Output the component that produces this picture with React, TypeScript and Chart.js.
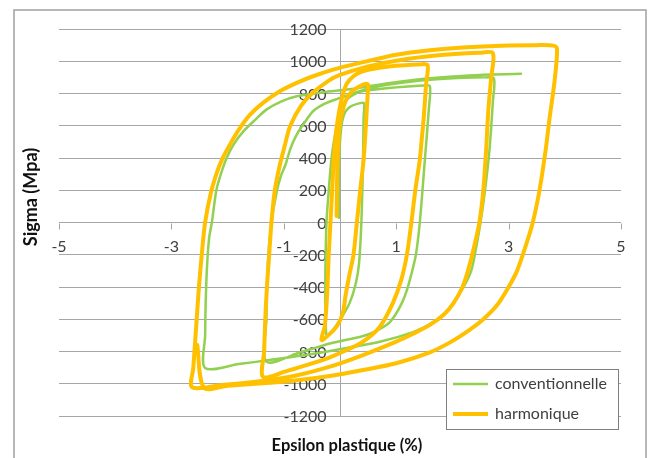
import React, { useEffect, useRef } from 'react';
import { Chart, registerables } from 'chart.js';

Chart.register(...registerables);

// ---- Axis ticks ----
const xTickValues = [-5, -3, -1, 1, 3, 5];
const yTickValues = [-1200, -1000, -800, -600, -400, -200, 0, 200, 400, 600, 800, 1000, 1200];

// ---- Series: conventionnelle (strain %, stress MPa), one line per branch ----
const conventionnelleStrain = [
  -0.02, -0.02, 0.0, 0.04, 0.1, 0.2, 0.38, 0.43,
  0.42, 0.41, 0.38, 0.34, 0.28, 0.17, 0.0, -0.18, -0.24,
  -0.26, -0.26, -0.24, -0.2, -0.15, -0.08, 0.0, 0.12, 0.25, 0.41, 1.0, 1.5, 1.6,
  1.58, 1.51, 1.42, 1.35, 1.27, 1.18, 1.1, 0.98, 0.85, 0.6, 0.4, -0.18, -0.7, -1.31,
  -1.31, -1.29, -1.22, -1.12, -1.05, -0.97, -0.88, -0.77, -0.63, -0.48, -0.28, -0.06, 0.5, 1.0, 1.6, 2.19, 2.6, 2.74,
  2.72, 2.66, 2.58, 2.5, 2.42, 2.34, 2.2, 2.03, 1.87, 1.6, 1.3, 0.71, 0.12, -0.5, -1.2, -1.8, -2.4,
  -2.4, -2.39, -2.37, -2.33, -2.28, -2.2, -2.12, -2.03, -1.9, -1.72, -1.5, -1.31, -1.05, -0.77, -0.3, 0.17, 0.6, 1.0, 1.6, 2.3, 3.22,
];
const conventionnelleStress = [
  30, 300, 500, 630, 690, 722, 742, 740,
  650, 389, 0, -250, -380, -500, -604, -690, -705,
  -500, -294, 0, 200, 400, 560, 660, 760, 795, 815, 838, 850, 845,
  700, 389, 0, -200, -320, -430, -500, -575, -630, -680, -705, -750, -805, -863,
  -600, -294, 0, 200, 290, 358, 460, 545, 620, 690, 735, 765, 830, 862, 885, 897, 900, 893,
  750, 451, 200, 0, -160, -294, -400, -490, -560, -630, -680, -740, -778, -815, -850, -878, -902,
  -700, -500, -300, -100, 0, 200, 300, 389, 480, 565, 640, 700, 750, 783, 808, 826, 850, 870, 895, 912, 922,
];

// ---- Series: harmonique (strain %, stress MPa), one line per branch ----
const harmoniqueStrain = [
  -0.06, -0.05, -0.03, 0.0, 0.05, 0.12, 0.22, 0.35, 0.47, 0.5,
  0.49, 0.46, 0.42, 0.36, 0.3, 0.24, 0.17, 0.1, 0.05, -0.05, -0.18, -0.33,
  -0.27, -0.23, -0.2, -0.17, -0.14, -0.11, -0.07, -0.02, 0.04, 0.12, 0.25, 0.4, 0.7, 1.0, 1.45, 1.56,
  1.53, 1.49, 1.45, 1.42, 1.34, 1.27, 1.19, 1.09, 0.94, 0.71, 0.41, 0.12, -0.18, -0.6, -0.98, -1.37,
  -1.35, -1.33, -1.3, -1.26, -1.22, -1.16, -1.07, -0.98, -0.89, -0.7, -0.5, -0.2, 0.0, 0.5, 1.0, 1.7, 2.48, 2.72,
  2.69, 2.64, 2.6, 2.55, 2.48, 2.4, 2.3, 2.18, 2.02, 1.85, 1.6, 1.3, 1.0, 0.41, -0.18, -0.8, -1.5, -2.1, -2.63,
  -2.61, -2.58, -2.55, -2.51, -2.46, -2.4, -2.3, -2.2, -2.1, -1.96, -1.8, -1.6, -1.37, -1.07, -0.77, -0.48, -0.12, 0.3, 1.0, 1.6, 2.19, 3.0, 3.5, 3.8, 3.86,
  3.84, 3.79, 3.73, 3.66, 3.55, 3.43, 3.3, 3.15, 3.0, 2.8, 2.55, 2.3, 1.95, 1.6, 1.0, 0.41, -0.18, -0.8, -1.5, -2.0, -2.42, -2.54,
];
const harmoniqueStress = [
  40, 300, 500, 620, 700, 770, 815, 845, 860, 855,
  780, 600, 389, 200, 0, -200, -320, -450, -563, -640, -690, -729,
  -640, -450, -200, 0, 200, 400, 560, 680, 780, 860, 910, 938, 960, 972, 982, 975,
  850, 650, 500, 389, 200, 0, -200, -356, -500, -646, -739, -791, -836, -885, -925, -957,
  -800, -600, -400, -200, 0, 200, 358, 480, 596, 720, 800, 880, 915, 968, 1003, 1035, 1052, 1050,
  900, 700, 451, 200, 0, -130, -270, -400, -500, -570, -635, -690, -739, -822, -894, -950, -988, -1008, -1022,
  -900, -750, -600, -400, -200, 0, 180, 300, 390, 482, 576, 669, 742, 814, 866, 907, 948, 985, 1040, 1068, 1085, 1097, 1100, 1097, 1080,
  950, 800, 650, 451, 200, 0, -150, -300, -400, -510, -600, -667, -745, -805, -873, -915, -952, -980, -1000, -1012, -1025, -760,
];

const seriesNames = ['conventionnelle', 'harmonique'];
const seriesColors = ['#92D050', '#FFC000'];
const seriesWidths = [2.5, 4];

const xTitle = 'Epsilon plastique (%)';
const yTitle = 'Sigma (Mpa)';

const toPoints = (xs: number[], ys: number[]) => xs.map((x, i) => ({ x, y: ys[i] }));

const overlayPlugin = {
  id: 'overlay',
  beforeDraw(chart: any) {
    const ctx = chart.ctx;
    ctx.save();
    ctx.fillStyle = '#ffffff';
    ctx.fillRect(0, 0, chart.width, chart.height);
    ctx.restore();
  },
  beforeDatasetsDraw(chart: any) {
    const ctx = chart.ctx;
    const xs = chart.scales.x;
    const ys = chart.scales.y;
    const area = chart.chartArea;
    const x0 = Math.round(xs.getPixelForValue(0)) + 0.5;
    const y0 = Math.round(ys.getPixelForValue(0)) + 0.5;
    ctx.save();
    ctx.strokeStyle = '#a6a6a6';
    ctx.lineWidth = 1;
    // vertical axis at x = 0
    ctx.beginPath();
    ctx.moveTo(x0, area.top);
    ctx.lineTo(x0, area.bottom);
    ctx.stroke();
    // x tick marks
    xTickValues.forEach((v) => {
      const px = Math.round(xs.getPixelForValue(v)) + 0.5;
      ctx.beginPath();
      ctx.moveTo(px, y0);
      ctx.lineTo(px, y0 + 6);
      ctx.stroke();
    });
    // tick labels
    ctx.fillStyle = '#404040';
    ctx.font = '16px Lato';
    ctx.textBaseline = 'middle';
    ctx.textAlign = 'center';
    xTickValues.forEach((v) => {
      ctx.fillText(String(v), xs.getPixelForValue(v), y0 + 23);
    });
    ctx.textAlign = 'right';
    yTickValues.forEach((v) => {
      ctx.fillText(String(v), x0 - 14, ys.getPixelForValue(v) + 1);
    });
    // axis titles
    ctx.fillStyle = '#111111';
    ctx.textAlign = 'center';
    ctx.font = 'bold 16.5px Lato';
    ctx.fillText(xTitle, 347, 446);
    ctx.font = 'bold 18px Lato';
    ctx.translate(31, 197);
    ctx.rotate(-Math.PI / 2);
    ctx.fillText(yTitle, 0, 0);
    ctx.restore();
  },
  afterDraw(chart: any) {
    const ctx = chart.ctx;
    ctx.save();
    // outer frame
    ctx.strokeStyle = '#a0a0a0';
    ctx.lineWidth = 1.5;
    ctx.strokeRect(14, 10, 632, 470);
    // legend
    const lx = 446.5, ly = 369.5, lw = 172, lh = 60;
    ctx.fillStyle = '#ffffff';
    ctx.fillRect(lx, ly, lw, lh);
    ctx.strokeStyle = '#7f7f7f';
    ctx.lineWidth = 1;
    ctx.strokeRect(lx, ly, lw, lh);
    ctx.font = '16px Lato';
    ctx.textAlign = 'left';
    ctx.textBaseline = 'middle';
    seriesNames.forEach((name, i) => {
      const cy = 384 + i * 30;
      ctx.strokeStyle = seriesColors[i];
      ctx.lineWidth = seriesWidths[i];
      ctx.beginPath();
      ctx.moveTo(453, cy);
      ctx.lineTo(488, cy);
      ctx.stroke();
      ctx.fillStyle = '#404040';
      ctx.fillText(name, 495, cy);
    });
    ctx.restore();
  },
};

export default function App() {
  const canvasRef = useRef<HTMLCanvasElement | null>(null);

  useEffect(() => {
    const canvas = canvasRef.current;
    if (!canvas) return;
    const chart = new Chart(canvas, {
      type: 'scatter',
      data: {
        datasets: [
          {
            label: seriesNames[0],
            data: toPoints(conventionnelleStrain, conventionnelleStress),
            showLine: true,
            borderColor: seriesColors[0],
            backgroundColor: seriesColors[0],
            borderWidth: seriesWidths[0],
            pointRadius: 0,
            tension: 0.3,
            borderJoinStyle: 'round',
            borderCapStyle: 'round',
            order: 2,
          },
          {
            label: seriesNames[1],
            data: toPoints(harmoniqueStrain, harmoniqueStress),
            showLine: true,
            borderColor: seriesColors[1],
            backgroundColor: seriesColors[1],
            borderWidth: seriesWidths[1],
            pointRadius: 0,
            tension: 0.3,
            borderJoinStyle: 'round',
            borderCapStyle: 'round',
            order: 1,
          },
        ],
      },
      options: {
        responsive: false,
        maintainAspectRatio: false,
        animation: false,
        devicePixelRatio: 1,
        layout: { padding: { left: 59, right: 29, top: 29, bottom: 42 } },
        plugins: {
          legend: { display: false },
          tooltip: { enabled: false },
        },
        scales: {
          x: {
            type: 'linear',
            display: false,
            min: -5,
            max: 5,
          },
          y: {
            type: 'linear',
            min: -1200,
            max: 1200,
            ticks: { display: false, stepSize: 200 },
            border: { display: false },
            grid: { color: '#a6a6a6', lineWidth: 1, drawTicks: false },
          },
        },
      },
      plugins: [overlayPlugin],
    });
    return () => chart.destroy();
  }, []);

  return (
    <div style={{ position: 'fixed', left: 0, top: 0, width: 650, height: 458, background: '#fff' }}>
      <canvas ref={canvasRef} width={650} height={458} />
    </div>
  );
}
